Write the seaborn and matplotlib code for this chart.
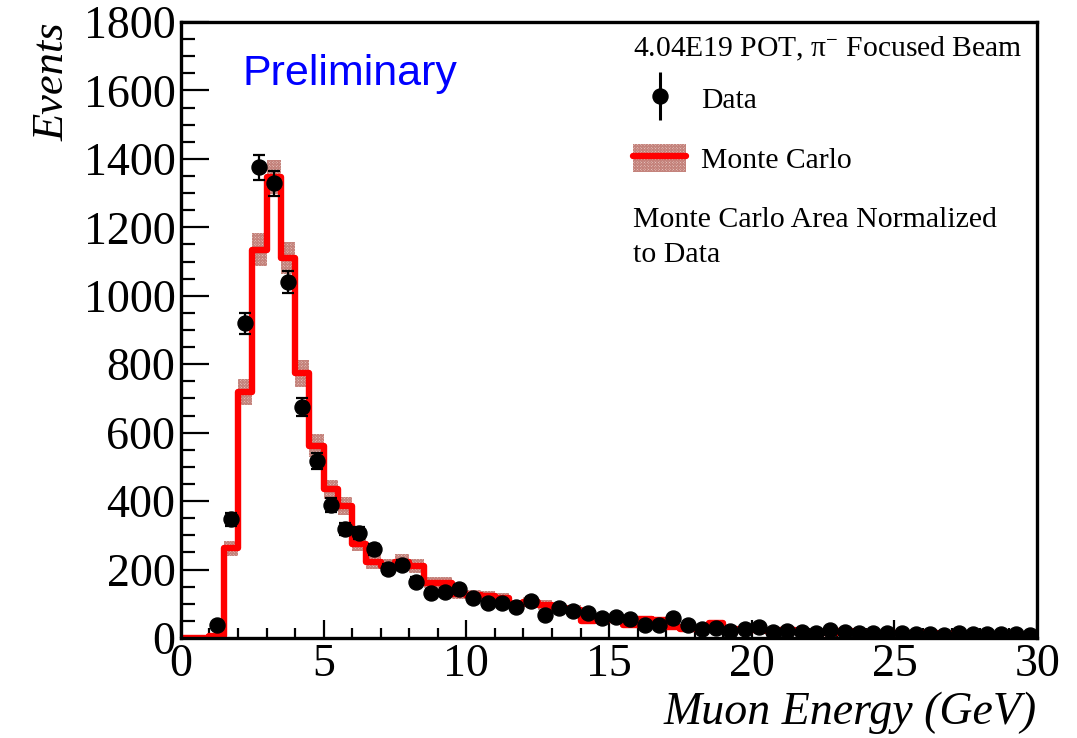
import numpy as np
import pandas as pd
import matplotlib
matplotlib.use("Agg")
import matplotlib.pyplot as plt
import seaborn as sns
from matplotlib.patches import Patch
from matplotlib.lines import Line2D
from matplotlib.legend_handler import HandlerTuple
from matplotlib.ticker import MultipleLocator

# ---------------- data ----------------
bin_edges = np.arange(0, 30.01, 0.5)
bin_centers = bin_edges[:-1] + 0.25

mc_values = [0, 0, 5, 262, 720, 1135, 1348, 1110, 773, 562,
             434, 385, 276, 223, 210, 223, 211, 162, 162, 130,
             126, 123, 116, 98, 106, 96, 88, 82, 50, 60,
             53, 38, 55, 52, 33, 25, 25, 45, 25, 22,
             22, 20, 22, 18, 18, 15, 20, 18, 15, 15,
             14, 12, 15, 12, 12, 10, 10, 10, 10, 8]
mc_errors = [0, 0, 3, 22, 38, 48, 50, 46, 40, 33,
             29, 27, 23, 21, 20, 21, 20, 17, 17, 16,
             15, 15, 15, 14, 14, 14, 13, 13, 10, 11,
             10, 9, 10, 10, 8, 7, 7, 9, 7, 7,
             7, 6, 7, 6, 6, 5, 6, 6, 5, 5,
             5, 5, 5, 5, 5, 4, 4, 4, 4, 4]

data_centers = bin_centers[2:]
data_values = [38, 347, 920, 1375, 1329, 1041, 676, 517, 388, 318,
               306, 260, 201, 213, 165, 131, 135, 142, 116, 101,
               101, 91, 109, 67, 87, 80, 74, 59, 62, 56,
               38, 38, 58, 38, 25, 28, 20, 25, 31, 18,
               21, 18, 15, 22, 18, 15, 14, 16, 14, 12,
               12, 10, 14, 11, 11, 13, 11, 10]

x_ticks = [0, 5, 10, 15, 20, 25, 30]
y_ticks = [0, 200, 400, 600, 800, 1000, 1200, 1400, 1600, 1800]

# ---------------- style ----------------
sns.set_theme(style="ticks")
plt.rcParams["font.family"] = ["Liberation Serif", "DejaVu Serif"]
plt.rcParams["mathtext.fontset"] = "custom"
plt.rcParams["mathtext.rm"] = "Liberation Serif"
plt.rcParams["mathtext.it"] = "Liberation Serif:italic"
plt.rcParams["text.color"] = "black"
plt.rcParams["axes.labelcolor"] = "black"
plt.rcParams["xtick.color"] = "black"
plt.rcParams["ytick.color"] = "black"
plt.rcParams["hatch.linewidth"] = 0.8

BAND_FACE = "#f2d9d5"
BAND_HATCH = "#c4837c"
plt.rcParams["hatch.color"] = BAND_HATCH

fig = plt.figure(figsize=(10.77, 7.38), dpi=100)
ax = fig.add_axes([0.168, 0.1355, 0.795, 0.8347])

mc_arr = np.array(mc_values, dtype=float)
mc_err = np.array(mc_errors, dtype=float)

# MC uncertainty band
ax.bar(bin_centers, 2 * mc_err, bottom=mc_arr - mc_err, width=0.5,
       facecolor=BAND_FACE, edgecolor=BAND_HATCH, hatch="xxxxxxxxxxxx",
       linewidth=0, zorder=1)

# MC histogram
mc_df = pd.DataFrame({"energy": bin_centers, "events": mc_arr})
sns.histplot(data=mc_df, x="energy", weights="events", bins=list(bin_edges),
             element="step", fill=False, color="#ff0000", linewidth=4.6,
             ax=ax, zorder=2)

# Data with Poisson errors
d = np.array(data_values, dtype=float)
ax.errorbar(data_centers, d, yerr=np.sqrt(d), fmt="o", color="black",
            markersize=10.8, elinewidth=1.6, capsize=4, capthick=1.6, zorder=3)

ax.set_xlim(0, 30)
ax.set_ylim(0, 1800)
ax.set_xticks(x_ticks)
ax.set_yticks(y_ticks)
ax.xaxis.set_minor_locator(MultipleLocator(1))
ax.yaxis.set_minor_locator(MultipleLocator(50))
ax.tick_params(axis="both", which="both", direction="in", top=False, right=False,
               labelsize=33, color="black", labelcolor="black", width=1.6)
ax.tick_params(axis="y", which="major", length=20, pad=4)
ax.tick_params(axis="y", which="minor", length=10)
ax.tick_params(axis="x", which="major", length=13, pad=4)
ax.tick_params(axis="x", which="minor", length=7)
for sp in ax.spines.values():
    sp.set_linewidth(2.4)
    sp.set_color("black")
    sp.set_visible(True)

ax.set_xlabel("Muon Energy (GeV)", fontsize=33, style="italic", loc="right",
              labelpad=4, color="black")
ax.set_ylabel("Events", fontsize=32, style="italic", loc="top", labelpad=8,
              color="black")

ax.text(0.072, 0.915, "Preliminary", transform=ax.transAxes, color="#0000ff",
        fontsize=31, family=["Liberation Sans"], va="center", ha="left")

ax.text(0.528, 0.956, "4.04E19 POT, π$^{-}$ Focused Beam", transform=ax.transAxes,
        fontsize=21.3, va="center", ha="left", color="black")

data_marker = Line2D([], [], marker="o", markersize=10.8, color="black", linestyle="None")
data_bar = Line2D([], [], marker="|", markersize=35, markeredgewidth=2.2,
                  color="black", linestyle="None")
band_handle = Patch(facecolor=BAND_FACE, edgecolor=BAND_HATCH, hatch="xxxxxxxxxxxx",
                    linewidth=0)
line_handle = Line2D([], [], color="#ff0000", linewidth=4.6)
leg = ax.legend([(data_bar, data_marker), (band_handle, line_handle)],
                ["Data", "Monte Carlo"],
                handler_map={tuple: HandlerTuple(ndivide=1, pad=0)},
                fontsize=21.3, frameon=False, loc="upper left",
                bbox_to_anchor=(0.528, 0.899), numpoints=1,
                handlelength=1.8, handleheight=1.05, handletextpad=0.5,
                labelspacing=1.02, borderaxespad=0, borderpad=0)
for t in leg.get_texts():
    t.set_color("black")

ax.text(0.528, 0.650, "Monte Carlo Area Normalized\nto Data", transform=ax.transAxes,
        fontsize=21.5, va="center", ha="left", linespacing=1.45, color="black")

fig.savefig("out.png", dpi=100)
